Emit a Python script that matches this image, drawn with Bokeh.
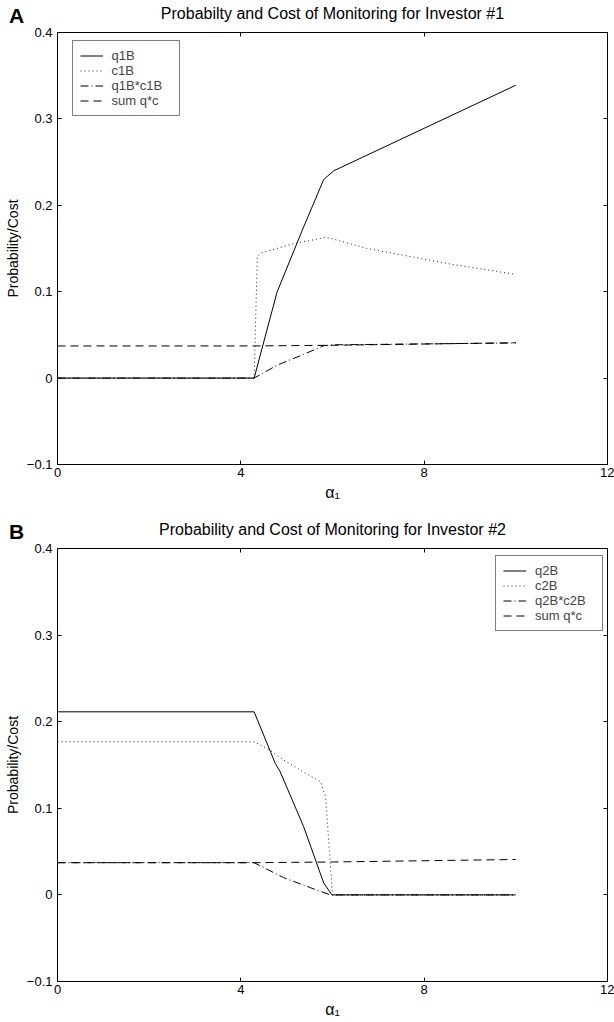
from bokeh.plotting import figure
from bokeh.models import Range1d, LinearAxis, FixedTicker, Legend, LegendItem
from bokeh.layouts import column
from bokeh.embed import file_html
from bokeh.resources import INLINE

# ---------------- data ----------------
x_ticks = [0, 4, 8, 12]
y_ticks = [-0.1, 0.0, 0.1, 0.2, 0.3, 0.4]
y_tick_labels = ["\u22120.1", "0", "0.1", "0.2", "0.3", "0.4"]

# Panel A: investor #1
q1B_x = [0, 4.29, 4.79, 5.37, 5.81, 6.03, 10]
q1B_y = [0, 0, 0.0995, 0.175, 0.230, 0.240, 0.339]
c1B_x = [0, 4.29, 4.36, 4.45, 5.15, 5.87, 6.76, 8.57, 10]
c1B_y = [0, 0, 0.141, 0.145, 0.1555, 0.163, 0.150, 0.132, 0.120]
q1Bc1B_x = [0, 4.29, 4.79, 5.37, 5.81, 6.03, 10]
q1Bc1B_y = [0, 0, 0.0149, 0.0275, 0.0375, 0.0385, 0.0407]

# Panel B: investor #2
q2B_x = [0, 4.29, 4.75, 4.86, 5.37, 5.81, 5.99, 10]
q2B_y = [0.2114, 0.2114, 0.152, 0.142, 0.0788, 0.0135, 0, 0]
c2B_x = [0, 4.29, 4.64, 4.93, 5.30, 5.74, 5.85, 5.95, 6.0, 10]
c2B_y = [0.1768, 0.1768, 0.167, 0.156, 0.144, 0.1307, 0.113, 0.037, 0, 0]
q2Bc2B_x = [0, 4.29, 4.43, 4.93, 5.52, 5.95, 10]
q2Bc2B_y = [0.0372, 0.0372, 0.0334, 0.020, 0.0083, 0, 0]

# sum q*c (same in both panels)
sum_x = [0, 4.29, 6.0, 10]
sum_y = [0.0372, 0.0372, 0.0380, 0.0409]

FONT = "Liberation Sans"
NBSP = "\u00a0"


def make_panel(title, letter, series, legend_xy, height, top, bottom):
    p = figure(width=614, height=height, output_backend="svg", toolbar_location=None,
               title=None,
               x_range=Range1d(0, 12), y_range=Range1d(-0.1, 0.4),
               min_border_left=57, min_border_right=7,
               min_border_top=top, min_border_bottom=bottom)
    p.grid.visible = False
    p.outline_line_color = "black"
    p.outline_line_width = 1
    p.background_fill_color = "white"
    p.border_fill_color = "white"

    for ax in p.xaxis:
        ax.ticker = FixedTicker(ticks=x_ticks)
    for ax in p.yaxis:
        ax.ticker = FixedTicker(ticks=y_ticks)
        ax.major_label_overrides = dict(zip(y_ticks, y_tick_labels))
    p.xaxis.axis_label = "\u03b1\u2081"
    p.yaxis.axis_label = "Probability/Cost"

    for ax in list(p.xaxis) + list(p.yaxis):
        ax.major_tick_in = 4
        ax.major_tick_out = 0
        ax.minor_tick_line_color = None
        ax.axis_line_color = "black"
        ax.major_tick_line_color = "black"
        ax.major_label_text_font = FONT
        ax.major_label_text_font_size = "13px"
        ax.major_label_text_color = "black"
        ax.axis_label_text_font = FONT
        ax.axis_label_text_font_style = "normal"
        ax.axis_label_text_color = "black"
    p.xaxis.major_label_standoff = 3
    p.yaxis.major_label_standoff = 5
    p.xaxis.axis_label_text_font_size = "16px"
    p.xaxis.axis_label_standoff = 4
    p.yaxis.axis_label_text_font_size = "14px"
    p.yaxis.axis_label_standoff = 3

    # mirrored ticks on top and right (no labels)
    for side, ticks in (("right", y_ticks), ("above", x_ticks)):
        ax = LinearAxis(ticker=FixedTicker(ticks=ticks), major_label_text_font_size="0px",
                        major_label_text_color=None, major_label_standoff=0,
                        major_tick_in=4, major_tick_out=0,
                        minor_tick_line_color=None, axis_line_color=None,
                        major_tick_line_color="black")
        p.add_layout(ax, side)

    # top text axis: panel letter as the label of the x=0 tick, title as its axis label
    head = LinearAxis(ticker=FixedTicker(ticks=[0]),
                      major_label_overrides={0: letter + NBSP * 14},
                      major_label_text_font=FONT, major_label_text_font_style="bold",
                      major_label_text_font_size="21px", major_label_text_color="black",
                      major_label_standoff=6,
                      major_tick_in=0, major_tick_out=0, major_tick_line_color=None,
                      minor_tick_line_color=None, axis_line_color=None,
                      axis_label=title, axis_label_text_font=FONT,
                      axis_label_text_font_style="normal", axis_label_text_font_size="16px",
                      axis_label_text_color="black", axis_label_standoff=-21)
    p.add_layout(head, "above")

    items = []
    for (name, xs, ys, dash, col) in series:
        r = p.line(xs, ys, line_color=col, line_width=1, line_dash=dash)
        items.append(LegendItem(label=name, renderers=[r]))
    leg = Legend(items=items, location=legend_xy, margin=0,
                 border_line_color="black", border_line_width=1,
                 background_fill_color="white", background_fill_alpha=1,
                 label_text_font=FONT, label_text_font_size="13px",
                 glyph_width=23, glyph_height=15, label_height=15, label_width=60,
                 spacing=0, padding=7, label_standoff=9)
    p.add_layout(leg, "center")
    return p


seriesA = [("q1B", q1B_x, q1B_y, "solid", "black"),
           ("c1B", c1B_x, c1B_y, "1 3", "#222222"),
           ("q1B*c1B", q1Bc1B_x, q1Bc1B_y, "8 3 1 3", "black"),
           ("sum q*c", sum_x, sum_y, "8 5", "black")]
seriesB = [("q2B", q2B_x, q2B_y, "solid", "black"),
           ("c2B", c2B_x, c2B_y, "1 3", "#222222"),
           ("q2B*c2B", q2Bc2B_x, q2Bc2B_y, "8 3 1 3", "black"),
           ("sum q*c", sum_x, sum_y, "8 5", "black")]

p1 = make_panel("Probabilty and Cost of Monitoring for Investor #1", "A", seriesA,
                (14.5, 348.5), 515, 32, 51)
p2 = make_panel("Probability and Cost of Monitoring for Investor #2", "B", seriesB,
                (438, 350), 507, 33, 41)

layout = column(p1, p2, spacing=0)
open("out.html", "w").write(file_html(layout, INLINE))
